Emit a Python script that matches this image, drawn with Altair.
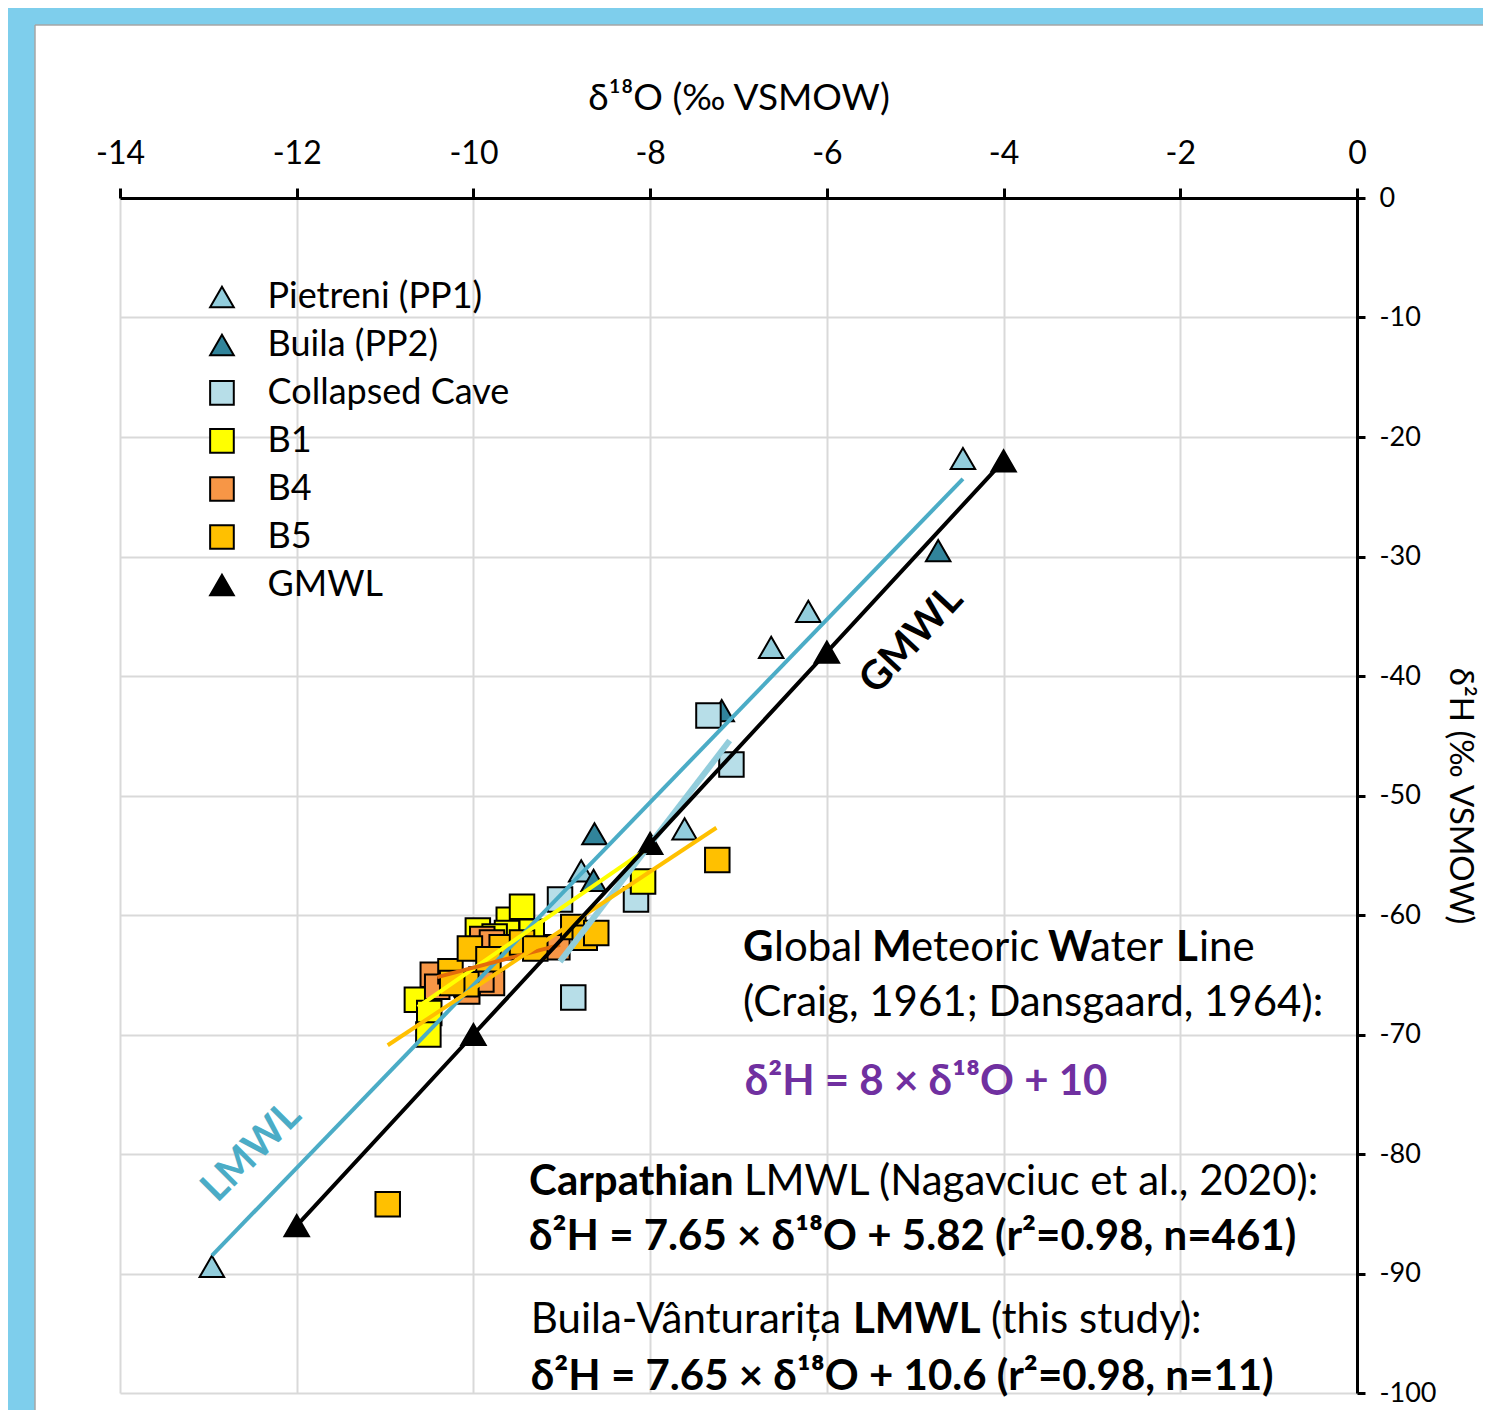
import altair as alt
import pandas as pd

FONT = "Lato"

# ---------------- data ----------------
series_names = ["Pietreni (PP1)", "Buila (PP2)", "Collapsed Cave", "B1", "B4", "B5", "GMWL"]
series_fill = ["#92CDDC", "#31849B", "#B7DEE8", "#FFFF00", "#F79646", "#FFC000", "#000000"]
series_shape = ["triangle-up", "triangle-up", "square", "square", "square", "square", "triangle-up"]
series_size = [600, 600, 470, 470, 470, 470, 520]

pp1_x = [-4.46, -6.21, -6.63, -7.61, -8.78, -12.96]
pp1_y = [-21.8, -34.6, -37.6, -52.8, -56.3, -89.4]
pp2_x = [-4.74, -7.19, -8.63, -8.64]
pp2_y = [-29.5, -42.9, -53.2, -57.1]
cc_x = [-7.34, -7.08, -8.16, -9.02, -8.87]
cc_y = [-43.3, -47.4, -58.7, -58.7, -66.9]
b1_x = [-10.64, -10.50, -10.51, -9.95, -9.60, -9.62, -9.45, -9.34, -8.08, -9.76]
b1_y = [-67.1, -68.2, -70.0, -61.3, -60.4, -61.5, -59.3, -61.4, -57.2, -61.8]
b4_x = [-10.46, -10.41, -9.90, -9.79, -9.79, -10.07, -9.91, -9.05]
b4_y = [-65.0, -66.0, -62.0, -62.3, -65.7, -66.4, -65.4, -62.7]
b5_x = [-10.26, -10.04, -10.08, -9.68, -9.45, -9.83, -10.24, -9.30, -8.87, -8.74, -8.61, -7.24, -10.97]
b5_y = [-64.7, -62.8, -65.8, -62.7, -62.3, -63.7, -65.7, -62.8, -61.0, -61.9, -61.5, -55.4, -84.2]
gmwl_x = [-12, -10, -8, -6, -4]
gmwl_y = [-86, -70, -54, -38, -22]

# regression / reference lines: name, x-ends, y-ends, colour, width
line_names = ["LMWL", "Collapsed Cave fit", "B1 fit", "B4 fit", "B5 fit"]
line_x = [[-12.96, -4.46], [-9.02, -7.10], [-10.63, -8.08], [-10.41, -9.02], [-10.97, -7.25]]
line_y = [[-88.5, -23.5], [-63.9, -45.4], [-67.7, -54.7], [-65.2, -62.5], [-70.9, -52.7]]
line_color = ["#4BACC6", "#92CDDC", "#FFFF00", "#E46C0A", "#FFC000"]
line_width = [4, 6, 4, 4, 4]

x_ticks = [-14, -12, -10, -8, -6, -4, -2, 0]
y_ticks = [0, -10, -20, -30, -40, -50, -60, -70, -80, -90, -100]

# legend layout (data units): symbol column, label column, first row, row step
leg_sym_x = -12.846
leg_lab_x = -12.33
leg_y0 = -8.28
leg_dy = -4.017

# annotation texts: (text, x, y)
ann_normal = [
    ("lobal", -6.598, -62.76), ("eteoric", -5.048, -62.76), ("ater", -3.022, -62.76), ("ine", -1.788, -62.76),
    ("(Craig, 1961; Dansgaard, 1964):", -6.95, -67.36),
    ("LMWL (Nagavciuc et al., 2020):", -6.938, -82.34),
    ("Buila-Vânturarița", -9.35, -93.89), ("(this study):", -4.142, -93.89),
]
ann_bold = [
    ("G", -6.949, -62.76), ("M", -5.489, -62.76), ("W", -3.497, -62.76), ("L", -2.048, -62.76),
    ("Carpathian", -9.37, -82.34),
    ("δ²H = 7.65 × δ¹⁸O + 5.82 (r²=0.98, n=461)", -9.37, -86.95),
    ("LMWL", -5.704, -93.89),
    ("δ²H = 7.65 × δ¹⁸O + 10.6 (r²=0.98, n=11)", -9.35, -98.66),
]
ann_purple = [("δ²H = 8 × δ¹⁸O + 10", -6.93, -73.97)]
ann_gmwl = [("GMWL", -5.04, -36.99)]
ann_lmwl = [("LMWL", -12.51, -79.83)]

# ---------------- tables ----------------
rows = []
for name, xs, ys in zip(series_names,
                        [pp1_x, pp2_x, cc_x, b1_x, b4_x, b5_x, gmwl_x],
                        [pp1_y, pp2_y, cc_y, b1_y, b4_y, b5_y, gmwl_y]):
    for a, b in zip(xs, ys):
        rows.append({"series": name, "x": a, "y": b})
pts = pd.DataFrame(rows)
gm = pd.DataFrame({"x": gmwl_x, "y": gmwl_y})
leg = pd.DataFrame({
    "series": series_names,
    "sx": [leg_sym_x] * len(series_names),
    "lx": [leg_lab_x] * len(series_names),
    "y": [leg_y0 + i * leg_dy for i in range(len(series_names))],
})


def tdf(lst):
    return pd.DataFrame([{"t": t, "x": a, "y": b} for t, a, b in lst])


xax = alt.Axis(orient="top", values=x_ticks, title="δ¹⁸O (‰ VSMOW)", labelExpr="'' + datum.value",
               labelFontSize=32, titleFontSize=37, labelPadding=18, titlePadding=20, tickSize=10,
               tickWidth=3, domainWidth=3, grid=True, labelFlush=False)
yax = alt.Axis(orient="right", values=y_ticks, title="δ²H (‰ VSMOW)", labelExpr="'' + datum.value",
               labelFontSize=27, titleFontSize=33, labelPadding=14, titlePadding=6, tickSize=8,
               tickWidth=3, domainWidth=3, grid=True, labelFlush=False)
xs_ = alt.Scale(domain=[-14, 0], nice=False, zero=False)
ys_ = alt.Scale(domain=[-100, 0], nice=False, zero=False)
X = alt.X("x:Q", scale=xs_, axis=xax)
Y = alt.Y("y:Q", scale=ys_, axis=yax)

FILL = alt.Fill("series:N", scale=alt.Scale(domain=series_names, range=series_fill), legend=None)
SHAPE = alt.Shape("series:N", scale=alt.Scale(domain=series_names, range=series_shape), legend=None)
SIZE = alt.Size("series:N", scale=alt.Scale(domain=series_names, range=series_size), legend=None)

one = pd.DataFrame({"k": [0]})
top_strip = alt.Chart(one).mark_rect(fill="#7ECEEC").encode(
    x=alt.value(-112), x2=alt.value(1363), y=alt.value(-190), y2=alt.value(-173))
left_strip = alt.Chart(one).mark_rect(fill="#7ECEEC").encode(
    x=alt.value(-112), x2=alt.value(-85), y=alt.value(-190), y2=alt.value(1212))
edge_top = alt.Chart(one).mark_rule(color="#A6A6A6", strokeWidth=1.5).encode(
    x=alt.value(-85), x2=alt.value(1363), y=alt.value(-173))
edge_left = alt.Chart(one).mark_rule(color="#A6A6A6", strokeWidth=1.5).encode(
    x=alt.value(-85), y=alt.value(-173), y2=alt.value(1212))

points = alt.Chart(pts).mark_point(filled=True, stroke="black", strokeWidth=2, opacity=1).encode(
    x=X, y=Y, fill=FILL, shape=SHAPE, size=SIZE)

layers = [top_strip, left_strip, edge_top, edge_left, points]

for name, lx, ly, col, w in zip(line_names, line_x, line_y, line_color, line_width):
    d = pd.DataFrame({"x": lx, "y": ly})
    layers.append(alt.Chart(d).mark_line(color=col, strokeWidth=w).encode(x=X, y=Y))

layers.append(alt.Chart(gm).mark_line(color="black", strokeWidth=4).encode(x=X, y=Y))
layers.append(alt.Chart(gm).mark_point(shape="triangle-up", filled=True, color="black", size=520,
                                        opacity=1).encode(x=X, y=Y))

# legend drawn from the series lists
layers.append(alt.Chart(leg).mark_point(filled=True, stroke="black", strokeWidth=2, opacity=1, size=560).encode(
    x=alt.X("sx:Q", scale=xs_, axis=xax), y=Y, fill=FILL, shape=SHAPE))
layers.append(alt.Chart(leg).mark_text(font=FONT, fontSize=36, align="left", baseline="middle", color="black").encode(
    x=alt.X("lx:Q", scale=xs_, axis=xax), y=Y, text="series:N"))

layers.append(alt.Chart(tdf(ann_normal)).mark_text(font=FONT, fontSize=42, align="left", baseline="middle",
                                                   color="black").encode(x=X, y=Y, text="t:N"))
layers.append(alt.Chart(tdf(ann_bold)).mark_text(font=FONT, fontSize=42, fontWeight="bold", align="left",
                                                 baseline="middle", color="black").encode(x=X, y=Y, text="t:N"))
layers.append(alt.Chart(tdf(ann_purple)).mark_text(font=FONT, fontSize=42, fontWeight="bold", align="left",
                                                   baseline="middle", color="#7030A0").encode(x=X, y=Y, text="t:N"))
layers.append(alt.Chart(tdf(ann_gmwl)).mark_text(font=FONT, fontSize=40, fontWeight="bold", align="center",
                                                 baseline="middle", angle=313, color="black").encode(x=X, y=Y, text="t:N"))
layers.append(alt.Chart(tdf(ann_lmwl)).mark_text(font=FONT, fontSize=40, fontWeight="bold", align="center",
                                                 baseline="middle", angle=315, color="#4BACC6").encode(x=X, y=Y, text="t:N"))

chart = alt.layer(*layers).properties(
    width=1237, height=1195,
    autosize=alt.AutoSizeParams(type="none"),
    padding={"left": 112, "top": 190, "right": 126, "bottom": 17},
).configure(background="white").configure_view(stroke=None).configure_axis(
    labelFont=FONT, titleFont=FONT, labelColor="black", titleColor="black", titleFontWeight="normal",
    domainColor="black", tickColor="black", gridColor="#D9D9D9", gridWidth=2,
)

chart.save("out.html", embed_options={"renderer": "svg", "actions": False})
